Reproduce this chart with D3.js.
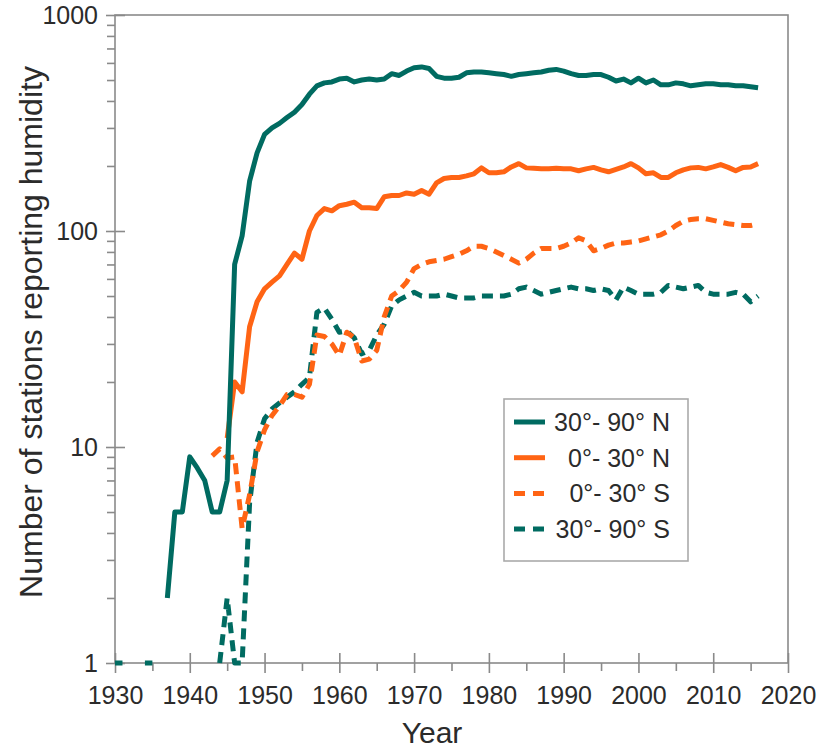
<!DOCTYPE html>
<html>
<head>
<meta charset="utf-8">
<script src="https://cdn.jsdelivr.net/npm/d3@7"></script>
<style>
  body { margin: 0; background: #fff; }
  svg { font-family: 'Liberation Sans', Arial, sans-serif; }
</style>
</head>
<body>
<div id="container"></div>
<script>
// stations reporting humidity, one value per year from each start year (null = none)
var startN30 = 1937
var north30_90 = [2, 5, 5, 9, 8, 7, 5, 5, 7, 70, 95, 170, 230, 280, 300, 315, 335, 355, 385, 430,
  470, 485, 490, 505, 510, 490, 500, 505, 500, 505, 535, 525, 550, 570, 575, 565, 520, 510, 510, 515,
  540, 545, 545, 540, 535, 530, 520, 530, 535, 540, 545, 555, 560, 550, 535, 525, 525, 530, 530, 515,
  495, 505, 485, 510, 485, 500, 475, 475, 485, 480, 470, 475, 480, 480, 475, 475, 470, 470, 465, 460]

var startN0 = 1945
var north0_30 = [11, 20, 18, 36, 47, 54, 58, 62, 70, 79, 74, 100, 118, 127, 124, 131, 133, 136, 128, 128,
  127, 144, 146, 146, 150, 148, 154, 148, 167, 175, 177, 177, 180, 184, 196, 186, 186, 188, 198, 205,
  196, 195, 194, 194, 195, 194, 194, 190, 194, 197, 192, 188, 193, 198, 205, 196, 184, 186, 177, 177,
  186, 192, 196, 197, 194, 198, 203, 197, 190, 197, 198, 205]

var startS0 = 1943
var south0_30 = [9.1, 9.8, 8.9, 9, 4.2, 6, 9.5, 12, 14, 15.5, 17.5, 17.5, 17, 19.5, 33, 32.5, 30, 26.5, 34, 32,
  25, 25.5, 28, 40, 50, 53, 58, 67, 70, 72, 73, 74, 76, 78, 81, 85, 85, 83, 80, 77,
  74, 71, 74, 79, 83, 83, 83, 85, 88, 93, 90, 81, 83, 86, 88, 88, 89, 90, 92, 94,
  96, 100, 106, 111, 113, 114, 114, 112, 110, 108, 107, 106, 106, 108]

var startS30 = 1930
var south30_90 = [1, 1, null, null, 1, 1, null, null, null, null, null, null, null, null, 1, 2, 1, 1, 5.5, 10.5,
  13.5, 15, 16, 17, 18, 19.5, 21, 42, 44, 39, 34, 34.5, 32, 27, 28, 33, 37, 45, 48, 50,
  52, 50, 50, 50, 51, 50, 49, 49, 49, 50, 50, 50, 50, 51, 54, 55, 53, 51, 52, 53,
  54, 55, 54, 54, 53, 54, 53, 48, 55, 53, 51, 51, 51, 52, 56, 55, 54, 55, 56, 52,
  51, 51, 51, 52, 51, 47, 50]

var seriesNames = ['30°- 90° N', '0°- 30° N', '0°- 30° S', '30°- 90° S']
var xTicks = [1930, 1940, 1950, 1960, 1970, 1980, 1990, 2000, 2010, 2020]
var xMinor = [1935, 1945, 1955, 1965, 1975, 1985, 1995, 2005, 2015]
var yTicks = [1, 10, 100, 1000]

var teal = '#006b61', orange = '#ff6414'

var width = 823, height = 750
var margin = {top: 15, right: 35, bottom: 87, left: 115}

var toPoints = function(start, vals) {
  return vals.map(function(v, i) { return {year: start + i, value: v} })
}

var series = [
  {name: seriesNames[0], data: toPoints(startN30, north30_90), color: teal, dash: null},
  {name: seriesNames[1], data: toPoints(startN0, north0_30), color: orange, dash: null},
  {name: seriesNames[2], data: toPoints(startS0, south0_30), color: orange, dash: '11,7'},
  {name: seriesNames[3], data: toPoints(startS30, south30_90), color: teal, dash: '11,7'}
]

var svg = d3.select('#container').append('svg')
  .attr('width', width).attr('height', height)

var x = d3.scaleLinear().domain([1930, 2020]).range([margin.left, width - margin.right])
var y = d3.scaleLog().domain([1, 1000]).range([height - margin.bottom, margin.top])

var axisColor = '#8a8a8a', textColor = '#2b2b2b'

// frame
svg.append('rect')
  .attr('x', x(1930)).attr('y', y(1000))
  .attr('width', x(2020) - x(1930)).attr('height', y(1) - y(1000))
  .attr('fill', 'none').attr('stroke', axisColor).attr('stroke-width', 1.6)

// minor ticks
var yMinor = []
;[1, 10, 100].forEach(function(d) { for (var k = 2; k <= 9; k++) yMinor.push(d * k) })

svg.append('g').attr('transform', 'translate(' + x(1930) + ',0)')
  .call(d3.axisLeft(y).tickValues(yMinor).tickSize(8).tickFormat(''))
  .call(function(g) { g.select('.domain').remove() })
  .selectAll('line').attr('stroke', axisColor).attr('stroke-width', 1.6)

svg.append('g').attr('transform', 'translate(0,' + y(1) + ')')
  .call(d3.axisBottom(x).tickValues(xMinor).tickSize(8).tickFormat(''))
  .call(function(g) { g.select('.domain').remove() })
  .selectAll('line').attr('stroke', axisColor).attr('stroke-width', 1.6)

// major ticks, crossing the axis
var yAxis = svg.append('g').attr('transform', 'translate(' + x(1930) + ',0)')
  .call(d3.axisLeft(y).tickValues(yTicks).tickSize(9).tickPadding(8).tickFormat(d3.format('d')))
yAxis.select('.domain').remove()
yAxis.selectAll('line').attr('x1', 10).attr('stroke', axisColor).attr('stroke-width', 1.6)
yAxis.selectAll('text').attr('fill', textColor).style('font-size', '25px')
  .style('font-family', "'Liberation Sans', Arial, sans-serif")

var xAxis = svg.append('g').attr('transform', 'translate(0,' + y(1) + ')')
  .call(d3.axisBottom(x).tickValues(xTicks).tickSize(10).tickPadding(13).tickFormat(d3.format('d')))
xAxis.select('.domain').remove()
xAxis.selectAll('line').attr('y1', -10).attr('stroke', axisColor).attr('stroke-width', 1.6)
xAxis.selectAll('text').attr('fill', textColor).style('font-size', '25px')
  .style('font-family', "'Liberation Sans', Arial, sans-serif")

// axis titles
svg.append('text')
  .attr('x', 432).attr('y', 743)
  .attr('text-anchor', 'middle').attr('fill', textColor)
  .style('font-size', '30px')
  .text('Year')

svg.append('text')
  .attr('transform', 'translate(42,' + 332 + ') rotate(-90)')
  .attr('text-anchor', 'middle').attr('fill', textColor)
  .style('font-size', '32px')
  .text('Number of stations reporting humidity')

// lines
var line = d3.line()
  .defined(function(d) { return d.value != null })
  .x(function(d) { return x(d.year) })
  .y(function(d) { return y(d.value) })

svg.append('g').selectAll('path')
  .data(series.slice().reverse())
  .join('path')
  .attr('d', function(d) { return line(d.data) })
  .attr('fill', 'none')
  .attr('stroke', function(d) { return d.color })
  .attr('stroke-width', 5)
  .attr('stroke-linejoin', 'round')
  .attr('stroke-dasharray', function(d) { return d.dash })

// legend
var legend = svg.append('g')
legend.append('rect')
  .attr('x', 504).attr('y', 399).attr('width', 184).attr('height', 162)
  .attr('fill', '#fff').attr('stroke', '#aaaaaa').attr('stroke-width', 1.6)

var rows = legend.selectAll('g.row').data(series).join('g')
  .attr('class', 'row')
  .attr('transform', function(d, i) { return 'translate(0,' + (422 + i * 35.7) + ')' })

rows.append('line')
  .attr('x1', 514).attr('x2', 545)
  .attr('stroke', function(d) { return d.color })
  .attr('stroke-width', 5)
  .attr('stroke-dasharray', function(d) { return d.dash ? '11,8' : null })

rows.append('text')
  .attr('x', 670).attr('y', 9)
  .attr('text-anchor', 'end').attr('fill', textColor)
  .style('font-size', '25px')
  .text(function(d) { return d.name })
</script>
</body>
</html>
